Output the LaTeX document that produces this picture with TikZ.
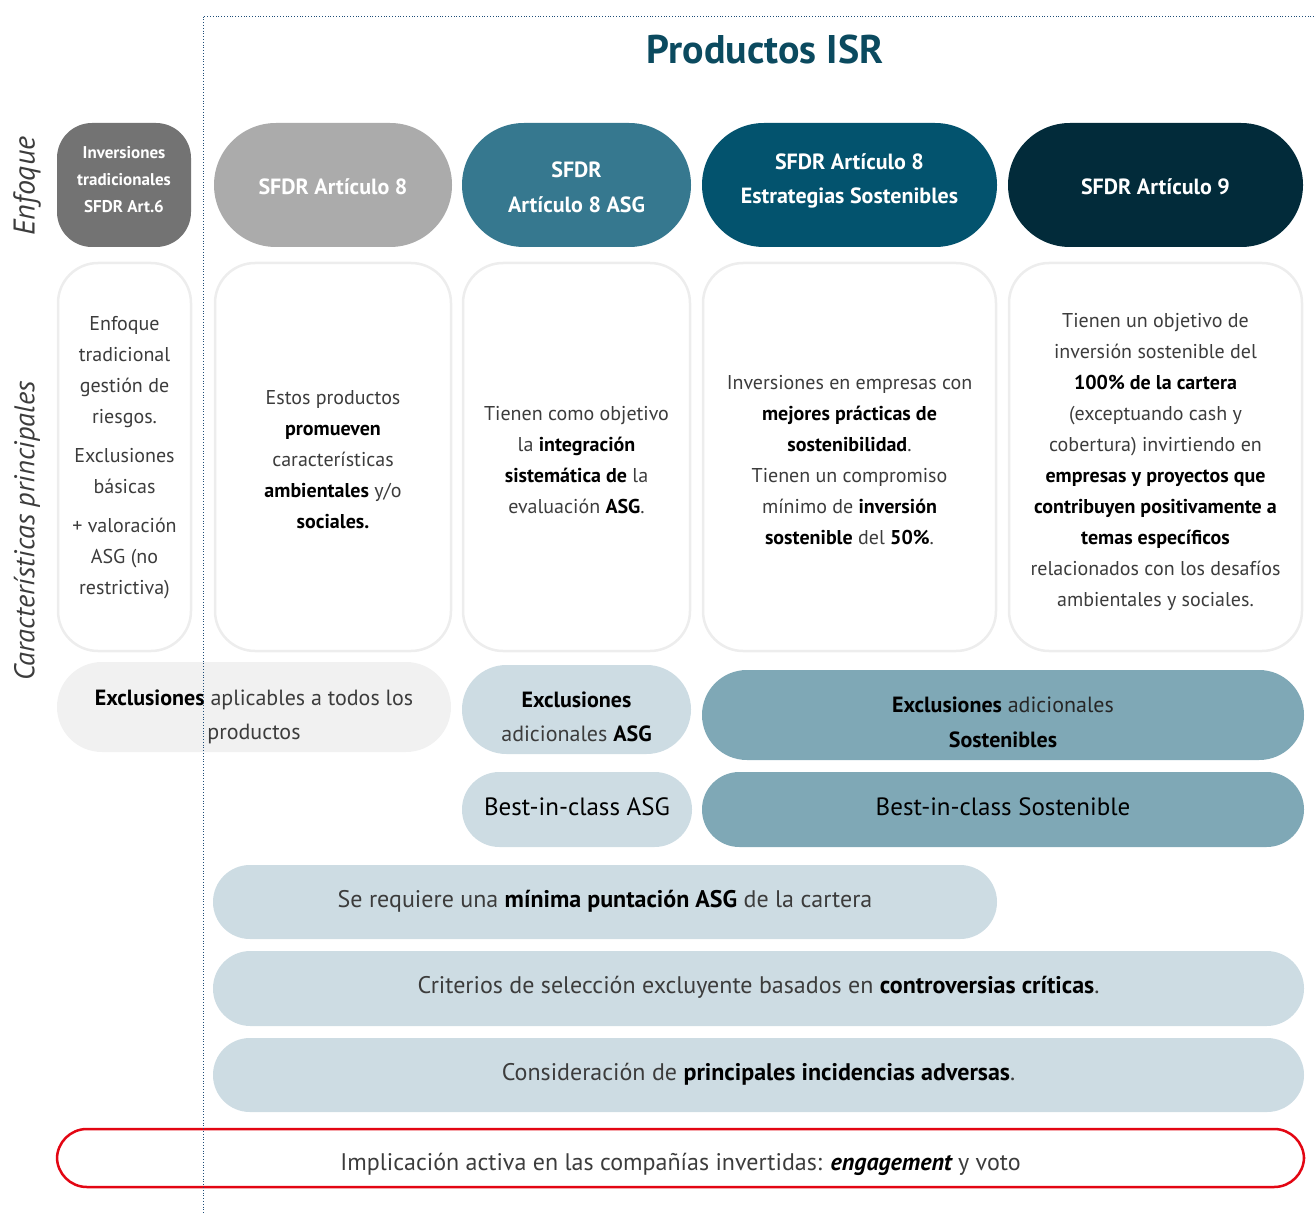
\documentclass[tikz,border=0pt]{standalone}
\usepackage{fontspec}
\setmainfont{PT Sans}
\usepackage{tikz}

\definecolor{gArt6}{HTML}{737373}
\definecolor{gArt8}{HTML}{ABABAB}
\definecolor{tAsg}{HTML}{36788F}
\definecolor{tSos}{HTML}{03536E}
\definecolor{tNine}{HTML}{022B3A}
\definecolor{frameGray}{HTML}{EDEDED}
\definecolor{paleGray}{HTML}{F1F1F1}
\definecolor{paleBlue}{HTML}{CDDCE3}
\definecolor{midBlue}{HTML}{7FA8B6}
\definecolor{titleBlue}{HTML}{0B4A5F}
\definecolor{txtGray}{HTML}{3C3C3C}
\definecolor{redLine}{HTML}{E30613}
\definecolor{dotBlue}{HTML}{1F4E79}

\newcommand{\fsz}[2]{\fontsize{#1}{#2}\selectfont}
\newcommand{\bt}[1]{{\bfseries\color{black}#1}}

\begin{document}
\begin{tikzpicture}[x=1pt, y=-1pt,
    hdr/.style={text=white, align=center, inner sep=0pt, minimum height=124pt},
    desc/.style={draw=frameGray, line width=2.5pt, fill=white, rounded corners=40pt,
        align=center, text=txtGray, inner sep=0pt, minimum height=388pt, font=\fsz{20}{31}},
    bar/.style={align=center, inner sep=0pt, text=txtGray}]
\useasboundingbox (0,0) rectangle (1314,1214);

% titles
\node[font=\bfseries\fsz{40}{40}, text=titleBlue] (title) at (765,50) {Productos ISR};
\node[rotate=90, font=\itshape\fsz{30}{30}, text=txtGray] (lblEnf) at (27,186) {Enfoque};
\node[rotate=90, font=\itshape\fsz{28.5}{28.5}, text=txtGray] (lblCar) at (27,531) {Características principales};

% enfoque row
\node[hdr, fill=gArt6, rounded corners=35pt, minimum width=134pt, font=\bfseries\fsz{17}{27},
    text height=56pt, text depth=0pt] (art6) at (124,185)
    {Inversiones\\tradicionales\\SFDR Art.6};
\node[hdr, fill=gArt8, rounded corners=61.9pt, minimum width=238pt, font=\bfseries\fsz{22}{35},
    text height=20pt, text depth=0pt] (art8) at (333,185)
    {SFDR Artículo 8};
\node[hdr, fill=tAsg, rounded corners=61.9pt, minimum width=229pt, font=\bfseries\fsz{22}{35},
    text height=56pt, text depth=0pt] (art8asg) at (576.5,185)
    {SFDR\\Artículo 8 ASG};
\node[hdr, fill=tSos, rounded corners=61.9pt, minimum width=295pt, font=\bfseries\fsz{22}{34},
    text height=38pt, text depth=0pt] (art8sos) at (849.5,185)
    {SFDR Artículo 8\\Estrategias Sostenibles};
\node[hdr, fill=tNine, rounded corners=61.9pt, minimum width=295pt, font=\bfseries\fsz{22}{35},
    text height=20pt, text depth=0pt] (art9) at (1155.5,185)
    {SFDR Artículo 9};

% caracteristicas
\node[desc, minimum width=133pt, text height=274pt, text depth=0pt] (descA) at (124.5,457)
    {Enfoque\\tradicional\\gestión de\\riesgos.\\[8pt]Exclusiones\\básicas\\[8pt]+ valoración\\ASG (no\\restrictiva)};
\node[desc, minimum width=236pt, text height=142pt, text depth=0pt] (descB) at (333,457)
    {Estos productos\\\bt{promueven}\\características\\\bt{ambientales} y/o\\\bt{sociales.}};
\node[desc, minimum width=227pt, text height=112pt, text depth=0pt] (descC) at (576.5,457)
    {Tienen como objetivo\\la \bt{integración}\\\bt{sistemática de} la\\evaluación \bt{ASG}.};
\node[desc, minimum width=293pt, text height=174pt, text depth=0pt] (descD) at (849.5,457)
    {Inversiones en empresas con\\\bt{mejores prácticas de}\\\bt{sostenibilidad}.\\Tienen un compromiso\\mínimo de \bt{inversión}\\\bt{sostenible} del \bt{50\%}.};
\node[desc, minimum width=293pt, text height=298pt, text depth=0pt] (descE) at (1155.5,457)
    {Tienen un objetivo de\\inversión sostenible del\\\bt{100\% de la cartera}\\(exceptuando cash y\\cobertura) invirtiendo en\\\bt{empresas y proyectos que}\\\bt{contribuyen positivamente a}\\\bt{temas específicos}\\relacionados con los desafíos\\ambientales y sociales.};

% exclusiones
\node[bar, fill=paleGray, rounded corners=44.9pt, minimum width=394pt, minimum height=90pt, font=\fsz{22}{34},
    text height=64pt, text depth=0pt] (exclAll) at (254,707)
    {\bt{Exclusiones} aplicables a todos los\\productos};
\node[bar, fill=paleBlue, rounded corners=44.4pt, minimum width=229pt, minimum height=89pt, font=\fsz{22}{34},
    text height=63pt, text depth=0pt] (exclAsg) at (576.5,709.5)
    {\bt{Exclusiones}\\adicionales \bt{ASG}};
\node[bar, fill=midBlue, rounded corners=44.9pt, minimum width=602pt, minimum height=90pt, font=\fsz{22}{35}, text=black!85,
    text height=64pt, text depth=0pt] (exclSos) at (1003,715)
    {\bt{Exclusiones} adicionales\\\bt{Sostenibles}};
\node[bar, fill=paleBlue, rounded corners=37.4pt, minimum width=230pt, minimum height=75pt, font=\fsz{25}{30}, text=black,
    text height=17pt, text depth=6pt] (bicAsg) at (577,809.5)
    {Best-in-class ASG};
\node[bar, fill=midBlue, rounded corners=37.4pt, minimum width=602pt, minimum height=75pt, font=\fsz{25}{30}, text=black,
    text height=17pt, text depth=6pt] (bicSos) at (1003,809.5)
    {Best-in-class Sostenible};

% barras comunes
\node[bar, fill=paleBlue, rounded corners=36.9pt, minimum width=784pt, minimum height=74pt, font=\fsz{24}{30},
    text height=17pt, text depth=7pt] (reqAsg) at (605,902)
    {Se requiere una \bt{mínima puntación ASG} de la cartera};
\node[bar, fill=paleBlue, rounded corners=37.4pt, minimum width=1091pt, minimum height=75pt, font=\fsz{24}{30},
    text height=17pt, text depth=8pt] (critCont) at (758.5,988.5)
    {Criterios de selección excluyente basados en \bt{controversias críticas}.};
\node[bar, fill=paleBlue, rounded corners=36.9pt, minimum width=1091pt, minimum height=74pt, font=\fsz{24}{30},
    text height=17pt, text depth=7pt] (paiAdv) at (758.5,1075)
    {Consideración de \bt{principales incidencias adversas}.};
\node[bar, draw=redLine, line width=2.5pt, fill=white, rounded corners=29.9pt, minimum width=1247pt, minimum height=58pt, font=\fsz{24}{30},
    text height=24pt, text depth=0pt] (engVoto) at (680.5,1158)
    {Implicación activa en las compañías invertidas: \bt{\itshape engagement} y voto};

% separador punteado
\coordinate (dotEnd) at (1314,16);
\coordinate (dotTop) at (203,16);
\coordinate (dotBot) at (203,1214);
\draw[dotBlue, dotted, line width=0.8pt] (dotEnd) -- (dotTop) -- (dotBot);
\end{tikzpicture}
\end{document}
